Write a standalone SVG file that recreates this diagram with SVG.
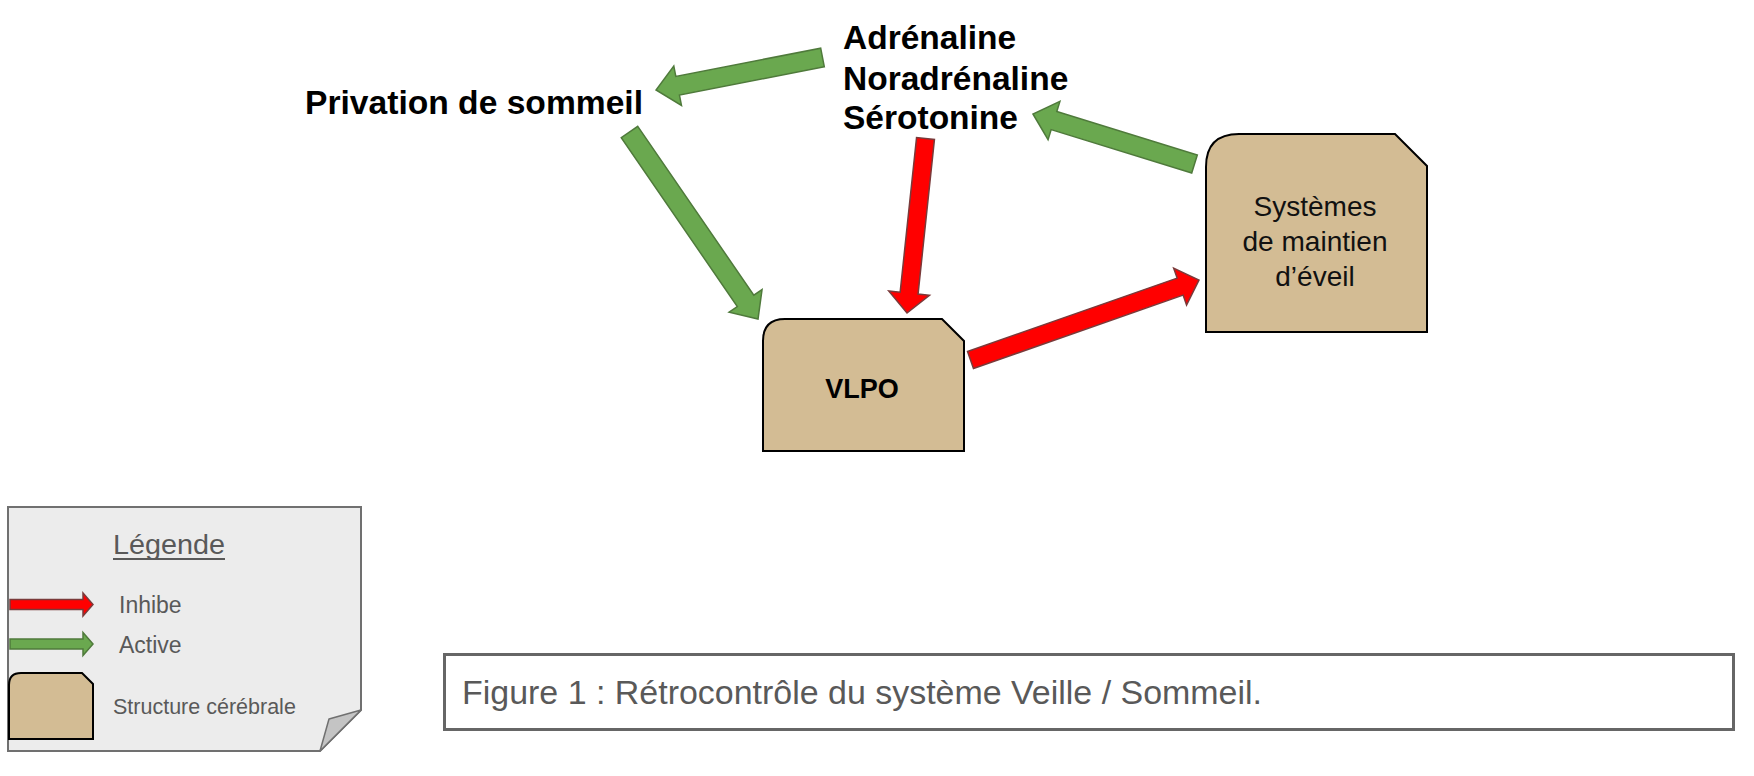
<svg xmlns="http://www.w3.org/2000/svg" width="1754" height="776" viewBox="0 0 1754 776">
<style>
.bold{font-family:"Liberation Sans",Arial,sans-serif;font-weight:bold;fill:#000}
.reg{font-family:"Liberation Sans",Arial,sans-serif;fill:#111}
.gray{font-family:"Liberation Sans",Arial,sans-serif;fill:#595959}
.struct{fill:#d3bc94;stroke:#000;stroke-width:2}
.act{fill:#6aa84f;stroke:#4f7a3b;stroke-width:1.5;stroke-linejoin:miter}
.inh{fill:#ff0000;stroke:#7a3a3a;stroke-width:1.5;stroke-linejoin:miter}
</style>
<rect width="1754" height="776" fill="#fff"/>

<g id="connectors">
  <path class="act" transform="translate(822.5,57.5) rotate(168.95)" d="M0,-9.5 L147.6,-9.5 L147.6,-20 L169.6,0 L147.6,20 L147.6,9.5 L0,9.5 Z"/>
  <path class="act" transform="translate(629.5,132) rotate(55.5)" d="M0,-10 L204.9,-10 L204.9,-20 L226.9,0 L204.9,20 L204.9,10 L0,10 Z"/>
  <path class="inh" transform="translate(925.5,138.5) rotate(96.05)" d="M0,-9 L155.5,-9 L155.5,-20.5 L175.5,0 L155.5,20.5 L155.5,9 L0,9 Z"/>
  <path class="inh" transform="translate(970.5,360) rotate(-19.3)" d="M0,-9 L222.1,-9 L222.1,-19.5 L242.1,0 L222.1,19.5 L222.1,9 L0,9 Z"/>
  <path class="act" transform="translate(1194.5,164) rotate(197.2)" d="M0,-9.5 L147.1,-9.5 L147.1,-20 L169.1,0 L147.1,20 L147.1,9.5 L0,9.5 Z"/>
</g>

<g id="privation">
  <text class="bold" x="305" y="114" font-size="33.5" textLength="338" lengthAdjust="spacingAndGlyphs">Privation de sommeil</text>
</g>

<g id="neurotransmetteurs">
  <text class="bold" x="843" y="49" font-size="33.5">Adrénaline</text>
  <text class="bold" x="843" y="90" font-size="33.5">Noradrénaline</text>
  <text class="bold" x="843" y="129" font-size="33.5">Sérotonine</text>
</g>

<g id="vlpo">
  <path class="struct" d="M763,451 L763,341 Q763,319 785,319 L942,319 L964,341 L964,451 Z"/>
  <text class="bold" x="862" y="398" font-size="27" text-anchor="middle">VLPO</text>
</g>

<g id="systemes">
  <path class="struct" d="M1206,332 L1206,167 Q1206,134 1239,134 L1395,134 L1427,166 L1427,332 Z"/>
  <text class="reg" x="1315" y="216" font-size="28" text-anchor="middle" textLength="123" lengthAdjust="spacingAndGlyphs">Systèmes</text>
  <text class="reg" x="1315" y="251" font-size="28" text-anchor="middle" textLength="145" lengthAdjust="spacingAndGlyphs">de maintien</text>
  <text class="reg" x="1315" y="286" font-size="28" text-anchor="middle">d’éveil</text>
</g>

<g id="legende">
  <path d="M8,507 L361,507 L361,710 L320,751 L8,751 Z" fill="#ececec" stroke="#707070" stroke-width="2"/>
  <path d="M361,710 L329,719 L320,751 Z" fill="#c4c4c4" stroke="#707070" stroke-width="1.5" stroke-linejoin="round"/>
  <text class="gray" x="113" y="554" font-size="27" textLength="112" lengthAdjust="spacingAndGlyphs">Légende</text>
  <rect x="113" y="558" width="112" height="2" fill="#595959"/>
  <path class="inh" d="M10,599.5 L83,599.5 L83,593 L93,604.5 L83,616 L83,609.5 L10,609.5 Z"/>
  <text class="gray" x="119" y="613" font-size="23">Inhibe</text>
  <path class="act" d="M10,639 L83,639 L83,632.5 L93,644 L83,655.5 L83,649 L10,649 Z"/>
  <text class="gray" x="119" y="653" font-size="23">Active</text>
  <path class="struct" d="M9,739 L9,685 Q9,673 21,673 L82,673 L93,684 L93,739 Z"/>
  <text class="gray" x="113" y="714" font-size="21.5">Structure cérébrale</text>
</g>

<g id="legende-figure">
  <rect x="444.5" y="654.5" width="1289" height="75" fill="#fff" stroke="#666" stroke-width="3"/>
  <text class="gray" x="462" y="704" font-size="33.5" textLength="800" lengthAdjust="spacingAndGlyphs">Figure 1 : Rétrocontrôle du système Veille / Sommeil.</text>
</g>
</svg>
